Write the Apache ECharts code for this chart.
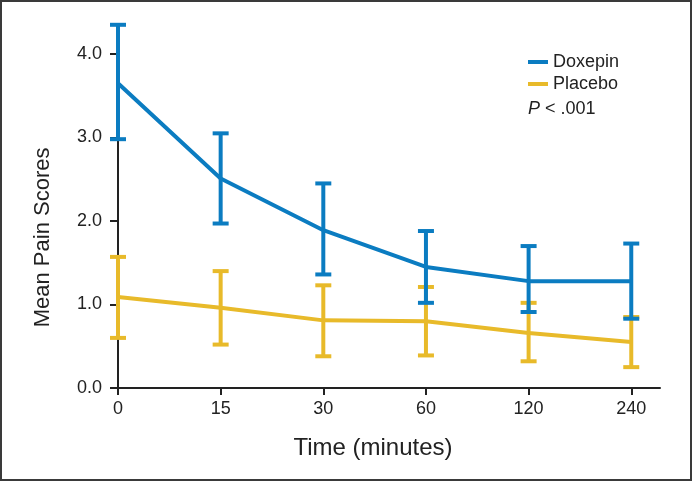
<!DOCTYPE html>
<html>
<head>
<meta charset="utf-8">
<script src="https://cdn.jsdelivr.net/npm/echarts@6/dist/echarts.min.js"></script>
<style>html,body{margin:0;padding:0;background:#fff}#c{width:692px;height:481px}</style>
</head>
<body>
<div id="c"></div>
<script>
const categories = ['0', '15', '30', '60', '120', '240'];
const yTicks = [0, 1, 2, 3, 4];
const doxepinMean = [3.65, 2.51, 1.89, 1.45, 1.28, 1.28];
const doxepinLow  = [2.98, 1.97, 1.36, 1.02, 0.91, 0.83];
const doxepinHigh = [4.35, 3.05, 2.45, 1.88, 1.70, 1.73];
const placeboMean = [1.09, 0.96, 0.81, 0.80, 0.66, 0.55];
const placeboLow  = [0.60, 0.52, 0.38, 0.39, 0.32, 0.25];
const placeboHigh = [1.57, 1.40, 1.23, 1.21, 1.02, 0.85];

const BLUE = '#0b7cc1';
const YELLOW = '#e8ba2a';
const FONT = 'Liberation Sans, Arial, Helvetica, sans-serif';

function errData(low, high) {
  return categories.map((c, i) => [i, low[i], high[i]]);
}
function errSeries(name, low, high, color) {
  return {
    type: 'custom',
    name: name,
    silent: true,
    data: errData(low, high),
    encode: { x: 0, y: [1, 2] },
    renderItem: function (params, api) {
      const x = api.value(0);
      const lo = api.coord([x, api.value(1)]);
      const hi = api.coord([x, api.value(2)]);
      const hw = 8;
      const style = { stroke: color, lineWidth: 4, fill: null };
      return {
        type: 'group',
        children: [
          { type: 'line', shape: { x1: lo[0], y1: lo[1], x2: hi[0], y2: hi[1] }, style: style },
          { type: 'line', shape: { x1: lo[0] - hw, y1: lo[1], x2: lo[0] + hw, y2: lo[1] }, style: style },
          { type: 'line', shape: { x1: hi[0] - hw, y1: hi[1], x2: hi[0] + hw, y2: hi[1] }, style: style }
        ]
      };
    },
    z: 3
  };
}

const chart = echarts.init(document.getElementById('c'), null, { renderer: 'canvas' });
chart.setOption({
  animation: false,
  backgroundColor: '#fff',
  textStyle: { fontFamily: FONT },
  grid: { left: 118, right: 32, top: 24.8, bottom: 93, containLabel: false },
  legend: {
    orient: 'vertical',
    left: 523,
    top: 48,
    itemWidth: 20,
    itemHeight: 4,
    itemGap: 4,
    icon: 'rect',
    textStyle: { fontSize: 18, color: '#222', fontFamily: FONT },
    data: ['Doxepin', 'Placebo']
  },
  xAxis: {
    type: 'value',
    min: 0,
    max: 5.28,
    interval: 1,
    name: 'Time (minutes)',
    nameLocation: 'middle',
    nameGap: 48,
    nameTextStyle: { fontSize: 24, color: '#222', padding: [0, 32, 0, 0], fontFamily: FONT },
    axisLine: { lineStyle: { color: '#222', width: 2 } },
    axisTick: { show: true, length: 7, lineStyle: { color: '#222', width: 2 }, customValues: [0, 1, 2, 3, 4, 5] },
    axisLabel: {
      fontSize: 18, color: '#222', margin: 12,
      customValues: [0, 1, 2, 3, 4, 5],
      formatter: function (v) { return categories[Math.round(v)]; }
    },
    splitLine: { show: false }
  },
  yAxis: {
    type: 'value',
    min: 0,
    max: 4.35,
    name: 'Mean Pain Scores',
    nameLocation: 'middle',
    nameGap: 64,
    nameRotate: 90,
    nameTextStyle: { fontSize: 22, color: '#222', padding: [0, 62, 0, 0], fontFamily: FONT },
    axisLine: { show: true, lineStyle: { color: '#222', width: 2 } },
    axisTick: { show: true, length: 8, lineStyle: { color: '#222', width: 2 }, customValues: yTicks },
    axisLabel: {
      fontSize: 18, color: '#222', margin: 16,
      customValues: yTicks,
      formatter: function (v) { return v.toFixed(1); }
    },
    splitLine: { show: false }
  },
  graphic: [
    {
      type: 'rect', silent: true, z: 100,
      shape: { x: 1, y: 1, width: 690, height: 479 },
      style: { fill: null, stroke: '#3a3a3a', lineWidth: 2 }
    },
    {
      type: 'text', left: 528, top: 100, z: 100,
      style: {
        text: '{i|P} < .001',
        rich: { i: { fontStyle: 'italic', fontSize: 18, fontFamily: FONT, fill: '#222' } },
        font: '18px ' + FONT, fill: '#222'
      }
    }
  ],
  series: [
    {
      type: 'line', name: 'Placebo', color: YELLOW,
      data: placeboMean.map((v, i) => [i, v]),
      symbol: 'none', lineStyle: { width: 4, color: YELLOW }, z: 2
    },
    errSeries('Placebo', placeboLow, placeboHigh, YELLOW),
    {
      type: 'line', name: 'Doxepin', color: BLUE,
      data: doxepinMean.map((v, i) => [i, v]),
      symbol: 'none', lineStyle: { width: 4, color: BLUE }, z: 4
    },
    Object.assign(errSeries('Doxepin', doxepinLow, doxepinHigh, BLUE), { z: 5 })
  ]
});
</script>
</body>
</html>
